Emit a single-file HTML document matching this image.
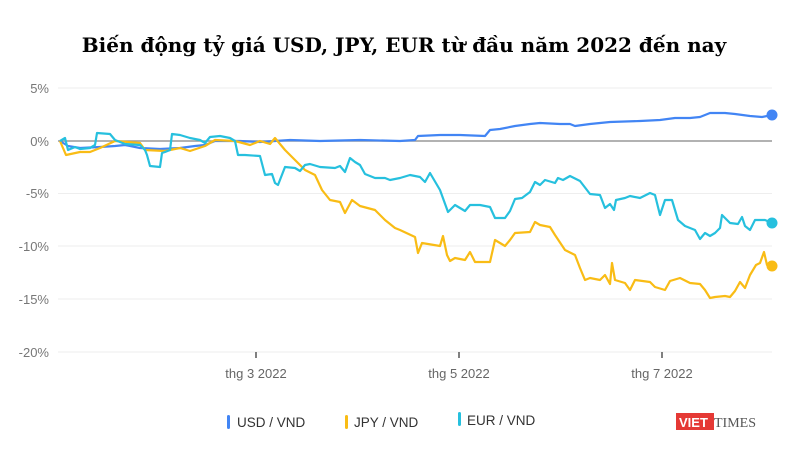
<!DOCTYPE html>
<html><head><meta charset="utf-8"><style>
body{margin:0;width:800px;height:450px;background:#fff;overflow:hidden}
</style></head><body>
<svg width="800" height="450" xmlns="http://www.w3.org/2000/svg" font-family="Liberation Sans, sans-serif">
<text x="404" y="52" text-anchor="middle" font-family="DejaVu Serif, serif" font-weight="bold" font-size="20" fill="#000">Biến động tỷ giá USD, JPY, EUR từ đầu năm 2022 đến nay</text>
<g stroke="#eeeeee" stroke-width="1">
<line x1="58" y1="88" x2="772" y2="88"/><line x1="58" y1="193.5" x2="772" y2="193.5"/>
<line x1="58" y1="246" x2="772" y2="246"/><line x1="58" y1="299" x2="772" y2="299"/><line x1="58" y1="352" x2="772" y2="352"/>
</g>
<line x1="58" y1="141" x2="772" y2="141" stroke="#999" stroke-width="1.5"/>
<g fill="#777" font-size="13" text-anchor="end">
<text x="49" y="93">5%</text><text x="49" y="146">0%</text><text x="49" y="198">-5%</text>
<text x="49" y="251">-10%</text><text x="49" y="304">-15%</text><text x="49" y="357">-20%</text>
</g>
<g stroke="#555" stroke-width="1.5"><line x1="256" y1="352" x2="256" y2="358"/><line x1="459" y1="352" x2="459" y2="358"/><line x1="662" y1="352" x2="662" y2="358"/></g>
<g fill="#666" font-size="13" text-anchor="middle">
<text x="256" y="378">thg 3 2022</text><text x="459" y="378">thg 5 2022</text><text x="662" y="378">thg 7 2022</text>
</g>
<g fill="none" stroke-width="2.2" stroke-linejoin="round">
<polyline stroke="#4285f4" points="60,141 68,146 80,148 100,147 115,146 125,145 140,148 160,149 180,148 195,146 205,145 215,141 240,141 260,142 290,140 320,141 360,140 400,141 415,140 418,136 440,135 460,135 485,136 490,130 500,129 515,126 530,124 540,123 560,124 570,124 575,126 590,124 610,122 640,121 660,120 675,118 690,118 700,117 710,113 725,113 735,114 750,116 762,117 772,115"/>
<polyline stroke="#f9bc15" points="60,141 66,155 80,152 90,152 100,148 115,141 140,143 145,150 165,151 180,148 190,151 205,146 215,140 235,141 250,145 260,141 270,144 275,138 285,150 295,160 305,170 315,175 322,190 330,200 340,202 345,213 352,200 360,206 375,210 385,220 395,228 400,230 415,237 418,253 422,243 440,246 443,236 447,255 450,261 455,258 465,260 470,252 475,262 490,262 495,240 505,246 510,240 515,233 530,232 535,222 540,225 550,227 555,235 565,250 575,255 580,268 585,280 590,278 600,280 605,275 610,284 612,263 615,280 625,283 630,290 635,280 650,282 655,287 665,290 670,281 680,278 690,283 700,284 705,290 710,298 715,297 725,296 730,297 735,291 740,282 745,288 750,275 756,265 760,263 764,252 767,265 772,266"/>
<polyline stroke="#26c0de" points="60,141 65,138 68,150 75,147 80,149 90,148 95,145 97,133 110,134 115,140 125,144 140,145 145,150 147,155 150,166 160,167 162,153 165,152 170,150 172,134 180,135 190,138 200,140 205,143 210,137 220,136 230,138 235,141 238,155 245,155 260,156 265,175 272,174 275,183 278,185 285,167 295,168 300,171 305,165 310,164 320,167 335,168 340,166 345,172 350,158 355,162 360,165 365,174 375,178 385,178 390,180 400,178 410,175 420,177 425,182 430,173 440,190 448,212 455,205 465,211 470,205 480,205 490,207 495,218 505,218 510,211 515,199 522,198 530,192 535,182 540,185 545,180 555,183 558,178 563,180 570,176 580,181 590,194 600,195 605,208 610,204 614,210 616,200 625,198 630,196 640,198 650,193 655,195 660,215 665,200 672,200 678,220 685,226 695,230 700,239 705,233 710,236 715,233 720,228 722,215 730,223 738,224 742,217 745,226 750,230 755,220 765,220 772,223"/>
</g>
<circle cx="772" cy="115" r="5.5" fill="#4285f4"/>
<circle cx="772" cy="266" r="5.5" fill="#f9bc15"/>
<circle cx="772" cy="223" r="5.5" fill="#26c0de"/>
<g font-size="13.5" fill="#333">
<rect x="227" y="415" width="3" height="14" rx="1.5" fill="#4285f4"/><text x="237" y="427">USD / VND</text>
<rect x="345" y="415" width="3" height="14" rx="1.5" fill="#f9bc15"/><text x="354" y="427">JPY / VND</text>
<rect x="458" y="412" width="3" height="14" rx="1.5" fill="#26c0de"/><text x="467" y="425">EUR / VND</text>
</g>
<rect x="676" y="413" width="38" height="17" fill="#e53935"/>
<text x="679" y="427" font-size="13" font-weight="bold" fill="#fff">VIET</text>
<text x="714" y="427" font-family="Liberation Serif, serif" font-size="14" fill="#555">TIMES</text>
</svg>
</body></html>
